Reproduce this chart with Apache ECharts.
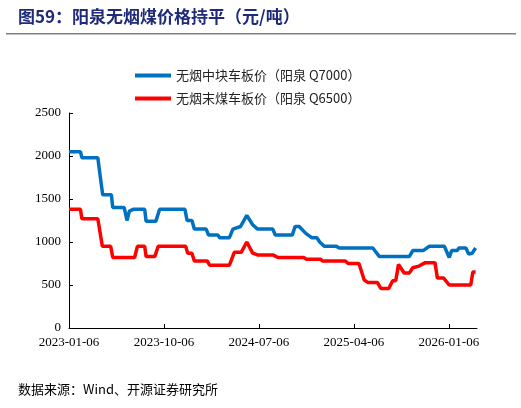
<!DOCTYPE html><html><head><meta charset="utf-8"><script src="https://cdn.jsdelivr.net/npm/echarts@6/dist/echarts.min.js"></script>
<style>body{margin:0}#c{width:521px;height:408px}</style></head><body><div id="c"></div><script>
const tickLabels=['2023-01-06','2023-10-06','2024-07-06','2025-04-06','2026-01-06'];
const blueName='无烟中块车板价（阳泉 Q7000）';
const redName='无烟末煤车板价（阳泉 Q6500）';
const blueDates=['2023-01-06','2023-02-08','2023-02-12','2023-03-30','2023-04-08','2023-04-13','2023-05-08','2023-05-12','2023-06-14','2023-06-22','2023-06-29','2023-07-10','2023-08-12','2023-08-16','2023-09-13','2023-09-24','2023-12-06','2023-12-12','2023-12-26','2024-01-02','2024-02-05','2024-02-12','2024-03-10','2024-03-15','2024-04-12','2024-04-22','2024-05-14','2024-06-01','2024-06-18','2024-07-02','2024-08-15','2024-08-22','2024-10-10','2024-10-18','2024-10-30','2024-11-18','2024-12-05','2024-12-20','2024-12-28','2025-01-10','2025-02-14','2025-02-22','2025-05-30','2025-06-18','2025-09-12','2025-09-22','2025-10-22','2025-11-08','2025-12-22','2026-01-05','2026-01-12','2026-01-28','2026-02-02','2026-02-22','2026-03-02','2026-03-12','2026-03-22'];
const blueVals=[2050,2050,1980,1980,1700,1550,1550,1400,1400,1250,1360,1380,1380,1240,1240,1380,1380,1250,1250,1150,1150,1080,1080,1050,1050,1150,1180,1310,1200,1150,1150,1080,1080,1180,1180,1100,1050,1050,1000,950,950,930,930,830,830,900,900,950,950,820,900,900,930,930,860,870,930];
const redDates=['2023-01-06','2023-02-08','2023-02-12','2023-03-30','2023-04-12','2023-05-06','2023-05-12','2023-07-14','2023-07-22','2023-08-12','2023-08-16','2023-09-10','2023-09-20','2023-12-08','2023-12-14','2023-12-26','2024-01-02','2024-02-08','2024-02-15','2024-04-12','2024-04-26','2024-05-16','2024-06-01','2024-06-18','2024-07-02','2024-08-15','2024-08-30','2024-11-12','2024-11-20','2024-12-30','2025-01-05','2025-03-12','2025-03-20','2025-04-20','2025-05-05','2025-05-15','2025-06-12','2025-06-22','2025-07-15','2025-07-26','2025-08-04','2025-08-12','2025-08-28','2025-09-12','2025-09-22','2025-10-10','2025-10-28','2025-11-25','2025-12-02','2025-12-20','2026-01-05','2026-03-08','2026-03-14','2026-03-22'];
const redVals=[1380,1380,1270,1270,950,950,820,820,950,950,830,830,950,950,870,870,780,780,730,730,880,880,1000,870,850,850,820,820,800,800,780,780,750,750,560,530,530,460,460,550,550,740,640,640,700,720,760,760,580,580,500,500,650,650];
const t0=Date.UTC(2023,0,6), DAY=86400000;
const off=d=>{const p=d.split('-').map(Number);return (Date.UTC(p[0],p[1]-1,p[2])-t0)/DAY;};
const mk=(ds,vs)=>ds.map((d,i)=>[off(d),vs[i]]);
const serif='"Liberation Serif","Noto Sans CJK SC",serif';
const ch=echarts.init(document.getElementById('c'));
ch.setOption({
 animation:false,
 graphic:[
  {type:'text',left:18,top:8,style:{text:'图59：阳泉无烟煤价格持平（元/吨）',font:'bold 17px "Noto Sans CJK SC"',fill:'#1f2a78'}},
  {type:'rect',shape:{x:6,y:33,width:510,height:1.5},style:{fill:'#808080'}},
  {type:'text',left:18,top:383,style:{text:'数据来源：Wind、开源证券研究所',font:'13px "Noto Sans CJK SC"',fill:'#000'}}
 ],
 legend:{orient:'vertical',left:130,top:64,itemWidth:36,itemHeight:4,itemGap:10,icon:'rect',
  textStyle:{fontFamily:'"Noto Sans CJK SC"',fontSize:13,color:'#222'},data:[blueName,redName]},
 grid:{left:69,right:44,top:113,bottom:80},
 xAxis:{type:'value',min:0,max:1175,interval:273.5,
  axisLine:{lineStyle:{color:'#000'}},axisTick:{inside:true,length:4,lineStyle:{color:'#000'}},splitLine:{show:false},
  axisLabel:{fontFamily:serif,fontSize:13,color:'#000',showMaxLabel:false,formatter:v=>tickLabels[Math.round(v/273.5)]||''}},
 yAxis:{type:'value',min:0,max:2500,interval:500,
  axisLine:{show:true,lineStyle:{color:'#000'}},axisTick:{show:true,inside:true,length:4,lineStyle:{color:'#000'}},splitLine:{show:false},
  axisLabel:{fontFamily:serif,fontSize:13,color:'#000',formatter:v=>String(v)}},
 series:[
  {name:blueName,type:'line',data:mk(blueDates,blueVals),showSymbol:false,lineStyle:{width:3.5,color:'#0070c0'},itemStyle:{color:'#0070c0'}},
  {name:redName,type:'line',data:mk(redDates,redVals),showSymbol:false,lineStyle:{width:3.5,color:'#ff0000'},itemStyle:{color:'#ff0000'}}
 ]
});
</script></body></html>
